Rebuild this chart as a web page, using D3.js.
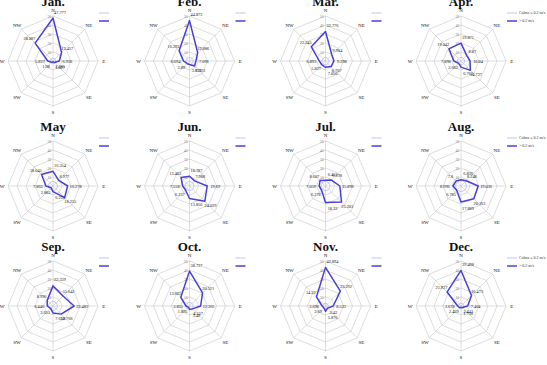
<!DOCTYPE html>
<html>
<head>
<meta charset="utf-8">
<script src="https://cdn.jsdelivr.net/npm/d3@7"></script>
<style>
    html, body { margin: 0; padding: 0; background: #fff; }
    svg { display: block; }
    text { font-family: "Liberation Serif", "DejaVu Serif", serif; }
</style>
</head>
<body>
<div class="canvas"></div>
<script>
const months = ['Jan.', 'Feb.', 'Mar.', 'Apr.', 'May', 'Jun.', 'Jul.', 'Aug.', 'Sep.', 'Oct.', 'Nov.', 'Dec.'];
const directions = ['N', 'NE', 'E', 'SE', 'S', 'SW', 'W', 'NW'];
const ringTicks = [10, 20, 30, 40, 50];
const seriesNames = ['Calms \u2264 0.2 m/s', '> 0.2 m/s'];

const windJan = [47.777, 13.457, 6.936, 2.385, 1.027, 1.98, 5.837, 28.087];
const windFeb = [44.872, 12.886, 7.096, 7.923, 3.812, 3.89, 6.694, 16.293];
const windMar = [32.776, 9.904, 9.298, 8.707, 7.056, 5.827, 6.893, 22.245];
const windApr = [19.871, 8.87, 10.04, 14.727, 6.763, 3.662, 7.898, 19.042];
const windMay = [16.354, 8.977, 16.278, 18.255, 6.233, 2.803, 7.863, 18.043];
const windJun = [10.787, 7.988, 19.69, 24.029, 13.856, 6.257, 7.558, 13.403];
const windJul = [6.455, 9.378, 15.896, 25.203, 18.32, 6.278, 7.059, 8.607];
const windAug = [6.836, 8.248, 19.036, 20.163, 17.889, 6.785, 8.996, 7.8];
const windSep = [22.339, 15.642, 23.482, 12.766, 7.658, 3.653, 6.446, 8.996];
const windOct = [38.737, 20.521, 12.365, 4.537, 3.49, 1.895, 3.855, 13.665];
const windNov = [42.894, 23.292, 8.533, 3.42, 5.876, 2.69, 3.696, 14.22];
const windDec = [39.498, 16.473, 7.404, 2.443, 1.758, 2.459, 3.678, 21.927];

// Calms share, same in every direction
const calms = [3, 4, 4, 4, 5, 5, 5, 6, 5, 4, 3, 3];

const windSeries = [windJan, windFeb, windMar, windApr, windMay, windJun,
                    windJul, windAug, windSep, windOct, windNov, windDec];

const chart = {
    width: 547,
    height: 365,
    radius: 45,
    colX: [53, 189.5, 325.5, 461],
    rowY: [61, 186, 306],
    mainColor: '#4a3ed8',
    calmColor: '#b3b6f2',
    gridColor: '#c6c6c6',
    svg: null,
    rScale: null,
    angle: null,

    init: function() {
        chart.svg = d3.select('.canvas')
            .append('svg')
            .attr('width', chart.width)
            .attr('height', chart.height);

        chart.rScale = d3.scaleLinear()
            .domain([0, d3.max(ringTicks)])
            .range([0, chart.radius]);

        // one angle per direction, N on top, clockwise
        chart.angle = d3.scalePoint()
            .domain(directions)
            .range([0, 2 * Math.PI * (directions.length - 1) / directions.length]);

        months.forEach((m, i) => chart.drawPanel(i));
    },

    point: function(dir, value) {
        const a = chart.angle(dir);
        const r = chart.rScale(value);
        return [r * Math.sin(a), -r * Math.cos(a)];
    },

    drawPanel: function(i) {
        const col = i % 4;
        const row = Math.floor(i / 4);
        const cx = chart.colX[col];
        const cy = chart.rowY[row];

        // panels in first three columns are cut on their right side
        const clipId = `clip-${i}`;
        const clipRight = col < 3 ? cx + 58 : chart.width;
        chart.svg.append('clipPath')
            .attr('id', clipId)
            .append('rect')
            .attr('x', cx - 60)
            .attr('y', cy - 75)
            .attr('width', clipRight - (cx - 60))
            .attr('height', 140);

        const g = chart.svg.append('g')
            .attr('clip-path', `url(#${clipId})`)
            .append('g')
            .attr('transform', `translate(${cx}, ${cy})`);

        // Octagon rings
        const ring = d3.line().curve(d3.curveLinearClosed);
        g.selectAll('.ring')
            .data(ringTicks)
            .enter()
            .append('path')
                .attr('class', 'ring')
                .attr('d', t => ring(directions.map(d => chart.point(d, t))))
                .attr('fill', 'none')
                .attr('stroke', chart.gridColor)
                .attr('stroke-width', 0.6);

        // Spokes
        g.selectAll('.spoke')
            .data(directions)
            .enter()
            .append('line')
                .attr('x1', 0)
                .attr('y1', 0)
                .attr('x2', d => chart.point(d, d3.max(ringTicks))[0])
                .attr('y2', d => chart.point(d, d3.max(ringTicks))[1])
                .attr('stroke', chart.gridColor)
                .attr('stroke-width', 0.6);

        // Ring values along the N spoke
        g.selectAll('.tick')
            .data(ringTicks)
            .enter()
            .append('text')
                .attr('x', -2)
                .attr('y', t => -chart.rScale(t) + 1.5)
                .attr('text-anchor', 'end')
                .attr('font-size', 3.6)
                .attr('fill', '#777')
                .text(t => t);

        // Direction names
        g.selectAll('.dir')
            .data(directions)
            .enter()
            .append('text')
                .attr('x', d => chart.point(d, 56.5)[0])
                .attr('y', d => chart.point(d, 56.5)[1] + 1.8)
                .attr('text-anchor', 'middle')
                .attr('font-size', 5)
                .attr('fill', '#111')
                .text(d => d);

        // Calms series
        const calmData = directions.map(d => chart.point(d, calms[i]));
        g.append('path')
            .attr('d', d3.line().curve(d3.curveCardinalClosed)(calmData))
            .attr('fill', 'none')
            .attr('stroke', chart.calmColor)
            .attr('stroke-width', 0.8);

        // Wind series
        const windData = directions.map((d, k) => chart.point(d, windSeries[i][k]));
        g.append('path')
            .attr('d', ring(windData))
            .attr('fill', 'none')
            .attr('stroke', chart.mainColor)
            .attr('stroke-width', 1.5)
            .attr('stroke-linejoin', 'round');

        // Value labels
        g.selectAll('.val')
            .data(directions)
            .enter()
            .append('text')
                .attr('x', (d, k) => {
                    const p = chart.point(d, windSeries[i][k]);
                    const a = chart.angle(d);
                    const shift = (d === 'N' || d === 'S') ? 7 : 0;
                    return p[0] + 8 * Math.sin(a) + shift;
                })
                .attr('y', (d, k) => {
                    const p = chart.point(d, windSeries[i][k]);
                    const a = chart.angle(d);
                    return p[1] - 6 * Math.cos(a) + 1.5;
                })
                .attr('text-anchor', 'middle')
                .attr('font-size', 4.3)
                .attr('fill', '#111')
                .text((d, k) => windSeries[i][k]);

        // Legend
        const legend = g.append('g')
            .attr('transform', 'translate(46, -48)');
        legend.selectAll('line')
            .data(seriesNames)
            .enter()
            .append('line')
                .attr('x1', 0)
                .attr('x2', 10)
                .attr('y1', (s, k) => k * 8)
                .attr('y2', (s, k) => k * 8)
                .attr('stroke', (s, k) => k === 0 ? chart.calmColor : chart.mainColor)
                .attr('stroke-width', (s, k) => k === 0 ? 0.8 : 1.5);
        legend.selectAll('text')
            .data(seriesNames)
            .enter()
            .append('text')
                .attr('x', 12)
                .attr('y', (s, k) => k * 8 + 1.4)
                .attr('font-size', 4)
                .attr('fill', '#333')
                .attr('font-family', 'Liberation Sans, Arial, sans-serif')
                .text(s => s);

        // Month title
        g.append('text')
            .attr('x', 0)
            .attr('y', -55)
            .attr('text-anchor', 'middle')
            .attr('font-size', 13)
            .attr('font-weight', 'bold')
            .attr('fill', '#111')
            .text(months[i]);
    }
};

document.addEventListener('DOMContentLoaded', chart.init);
</script>
</body>
</html>
